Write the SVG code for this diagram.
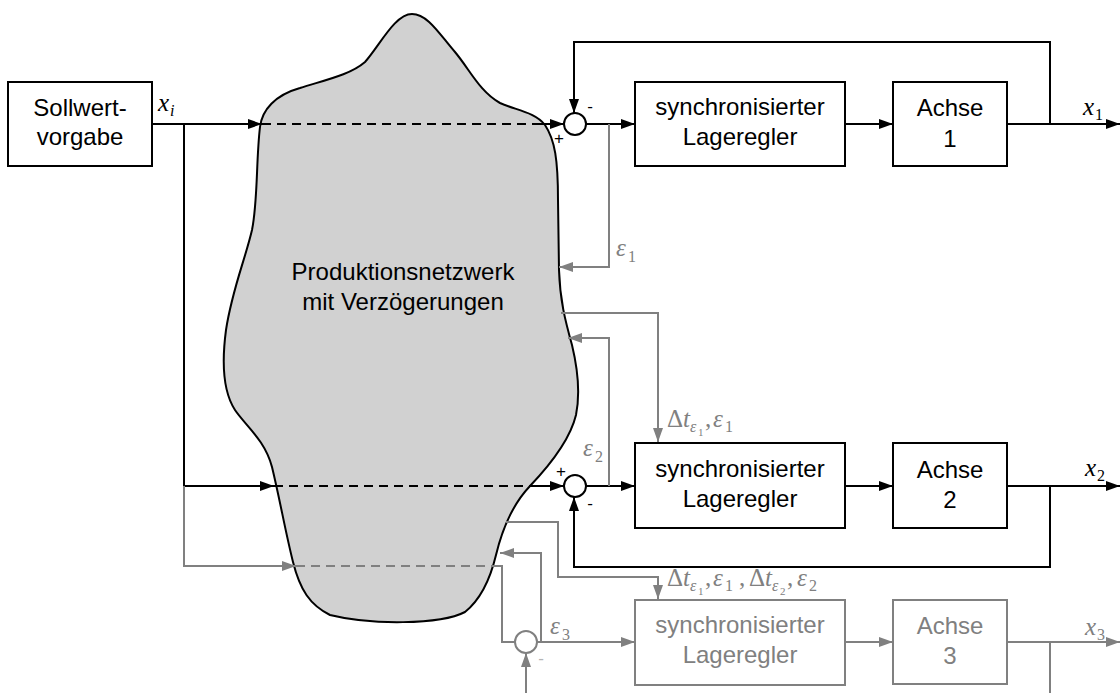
<svg xmlns="http://www.w3.org/2000/svg" width="1120" height="693" viewBox="0 0 1120 693">
  <style>
    .box { fill: #ffffff; stroke: #000000; stroke-width: 2; }
    .box.g { stroke: #808080; }
    .lbl { font-family: "Liberation Sans", Arial, sans-serif; font-size: 24px; fill: #000000; text-anchor: middle; }
    .lbl.g { fill: #808080; }
    .sign { font-family: "Liberation Sans", Arial, sans-serif; font-size: 17px; fill: #000000; text-anchor: middle; }
    .m { font-family: "Liberation Serif", "Times New Roman", serif; font-style: italic; font-size: 25px; fill: #000000; }
    .m.g { fill: #808080; }
    .up { font-style: normal; }
    .s1 { font-size: 16px; }
    .s2 { font-size: 11px; }
    .w { fill: none; stroke: #000000; stroke-width: 2; }
    .wg { fill: none; stroke: #808080; stroke-width: 2; }
    .dash { stroke-dasharray: 9 6; }
    .arr { marker-end: url(#ab); }
    .arrg { marker-end: url(#ag); }
    .sum { fill: #ffffff; stroke: #000000; stroke-width: 2; }
    .sum.g { stroke: #808080; }
  </style>
  <defs>
    <marker id="ab" markerUnits="userSpaceOnUse" markerWidth="14" markerHeight="10" refX="14" refY="5" orient="auto">
      <path d="M0,0 L14,5 L0,10 Z" fill="#000000"/>
    </marker>
    <marker id="ag" markerUnits="userSpaceOnUse" markerWidth="14" markerHeight="10" refX="14" refY="5" orient="auto">
      <path d="M0,0 L14,5 L0,10 Z" fill="#808080"/>
    </marker>
  </defs>

  <rect width="1120" height="693" fill="#ffffff"/>

  <!-- production network (cloud shape) -->
  <g id="netzwerk">
    <path d="M 260,127 C 262,110 275,95 300,88 C 325,80 350,75 365,62 C 380,45 395,14 412,14 C 428,14 440,35 455,52 C 470,70 480,92 500,103 C 515,110 535,112 545,125 C 555,140 558,160 558,200 L 559,270 C 560,300 565,320 572,345 C 578,370 580,395 576,415 C 570,440 550,465 530,486 C 512,505 502,530 496,555 C 490,580 480,600 465,612 C 440,625 370,625 330,615 C 310,605 300,590 293,562 C 285,530 280,500 272,467 C 265,440 245,425 235,410 C 222,390 222,360 226,330 C 232,290 245,260 252,230 C 258,200 256,160 260,127 Z" fill="#d1d1d1" stroke="#000000" stroke-width="2"/>
    <text class="lbl" x="403" y="280">Produktionsnetzwerk</text>
    <text class="lbl" x="403" y="310">mit Verzögerungen</text>
  </g>

  <!-- connectors -->
  <g id="connectors">
    <!-- setpoint into axis 1 path -->
    <polyline class="w arr" points="152,124 262,124"/>
    <line class="w dash" x1="262" y1="124" x2="536" y2="124"/>
    <polyline class="w arr" points="536,124 564,124"/>
    <!-- setpoint branch to axis 2 -->
    <polyline class="w" points="184,124 184,486"/>
    <polyline class="w arr" points="184,486 274,486"/>
    <line class="w dash" x1="274" y1="486" x2="530" y2="486"/>
    <polyline class="w arr" points="530,486 564,486"/>
    <!-- setpoint branch to axis 3 -->
    <polyline class="wg arrg" points="184,486 184,566 296,566"/>
    <line class="wg dash" x1="296" y1="566" x2="494" y2="566"/>
    <polyline class="wg" points="494,566 502,566 502,642 515,642"/>

    <!-- axis 1 chain -->
    <polyline class="w arr" points="586,124 635,124"/>
    <polyline class="w arr" points="845,124 893,124"/>
    <polyline class="w arr" points="1007,124 1120,124"/>
    <polyline class="w arr" points="1050,124 1050,42 574,42 574,113"/>
    <polyline class="wg arrg" points="609,124 609,267 559,267"/>
    <polyline class="wg arrg" points="561,313 658,313 658,442"/>

    <!-- axis 2 chain -->
    <polyline class="w arr" points="586,486 635,486"/>
    <polyline class="w arr" points="845,486 893,486"/>
    <polyline class="w arr" points="1007,486 1120,486"/>
    <polyline class="w arr" points="1050,486 1050,567 574,567 574,497"/>
    <polyline class="wg arrg" points="609,486 609,338 568,338"/>
    <polyline class="wg arrg" points="506,522 558,522 558,577 658,577 658,599"/>

    <!-- axis 3 chain -->
    <polyline class="wg arrg" points="537,642 635,642"/>
    <polyline class="wg arrg" points="845,642 893,642"/>
    <polyline class="wg arrg" points="1007,642 1120,642"/>
    <polyline class="wg" points="1050,642 1050,693"/>
    <polyline class="wg arrg" points="541,642 541,553 500,553"/>
    <polyline class="wg arrg" points="526,693 526,653"/>
  </g>

  <!-- setpoint source -->
  <g id="sollwert">
    <rect class="box" x="8" y="82" width="144" height="84"/>
    <text class="lbl" x="80" y="116">Sollwert-</text>
    <text class="lbl" x="80" y="145">vorgabe</text>
    <text class="m" x="158" y="111">x<tspan class="s1" x="170" y="116">i</tspan></text>
  </g>

  <!-- summing junctions -->
  <g id="summe1">
    <circle class="sum" cx="575" cy="124" r="11"/>
    <text class="sign" x="590" y="112">-</text>
    <text class="sign" x="559" y="144">+</text>
  </g>
  <g id="summe2">
    <circle class="sum" cx="575" cy="486" r="11"/>
    <text class="sign" x="561" y="477">+</text>
    <text class="sign" x="590" y="509">-</text>
  </g>
  <g id="summe3">
    <circle class="sum g" cx="526" cy="642" r="11"/>
    <text class="sign" x="541" y="664" style="fill:#b4b4b4">-</text>
  </g>

  <!-- controllers -->
  <g id="regler1">
    <rect class="box" x="635" y="82" width="210" height="84"/>
    <text class="lbl" x="740" y="115">synchronisierter</text>
    <text class="lbl" x="740" y="145">Lageregler</text>
  </g>
  <g id="regler2">
    <rect class="box" x="635" y="443" width="210" height="85"/>
    <text class="lbl" x="740" y="477">synchronisierter</text>
    <text class="lbl" x="740" y="507">Lageregler</text>
  </g>
  <g id="regler3">
    <rect class="box g" x="635" y="600" width="210" height="85"/>
    <text class="lbl g" x="740" y="633">synchronisierter</text>
    <text class="lbl g" x="740" y="663">Lageregler</text>
  </g>

  <!-- axes -->
  <g id="achse1">
    <rect class="box" x="893" y="82" width="114" height="84"/>
    <text class="lbl" x="950" y="116">Achse</text>
    <text class="lbl" x="950" y="147">1</text>
  </g>
  <g id="achse2">
    <rect class="box" x="893" y="443" width="114" height="85"/>
    <text class="lbl" x="950" y="478">Achse</text>
    <text class="lbl" x="950" y="508">2</text>
  </g>
  <g id="achse3">
    <rect class="box g" x="893" y="600" width="114" height="84"/>
    <text class="lbl g" x="950" y="634">Achse</text>
    <text class="lbl g" x="950" y="664">3</text>
  </g>

  <!-- signal labels -->
  <g id="signale">
    <text class="m" x="1083" y="115">x<tspan class="s1 up" x="1095" y="120">1</tspan></text>
    <text class="m" x="1085" y="476">x<tspan class="s1 up" x="1097" y="481">2</tspan></text>
    <text class="m g" x="1085" y="635">x<tspan class="s1 up" x="1097" y="640">3</tspan></text>

    <text class="m g" x="616" y="256">ε<tspan class="s1 up" x="628" y="262">1</tspan></text>
    <text class="m g" x="583" y="456">ε<tspan class="s1 up" x="595" y="462">2</tspan></text>
    <text class="m g" x="550" y="634">ε<tspan class="s1 up" x="562" y="640">3</tspan></text>

    <text class="m g" y="427"><tspan class="up" x="667">Δ</tspan><tspan x="683">t</tspan><tspan class="s1" x="690" y="432">ε</tspan><tspan class="s2 up" x="698" y="436">1</tspan><tspan class="up" x="705" y="427">,</tspan><tspan x="713" y="427">ε</tspan><tspan class="s1 up" x="725" y="432">1</tspan></text>

    <text class="m g" y="586"><tspan class="up" x="667">Δ</tspan><tspan x="683">t</tspan><tspan class="s1" x="690" y="591">ε</tspan><tspan class="s2 up" x="698" y="595">1</tspan><tspan class="up" x="705" y="586">,</tspan><tspan x="713" y="586">ε</tspan><tspan class="s1 up" x="725" y="591">1</tspan><tspan class="up" x="739" y="586">,</tspan><tspan class="up" x="749" y="586">Δ</tspan><tspan x="765" y="586">t</tspan><tspan class="s1" x="772" y="591">ε</tspan><tspan class="s2 up" x="780" y="595">2</tspan><tspan class="up" x="787" y="586">,</tspan><tspan x="797" y="586">ε</tspan><tspan class="s1 up" x="809" y="591">2</tspan></text>
  </g>
</svg>
